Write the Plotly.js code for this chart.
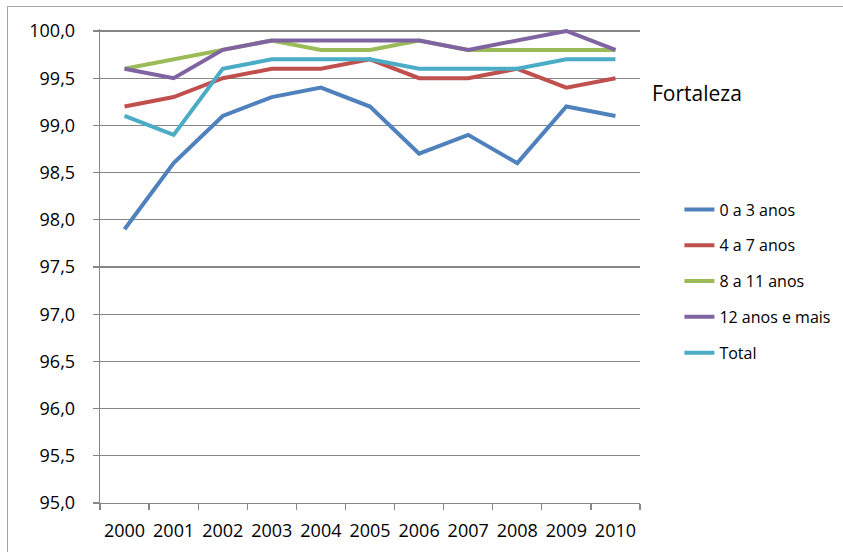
<!DOCTYPE html>
<html>
<head>
<meta charset="utf-8">
<script src="https://cdn.plot.ly/plotly-3.0.1.min.js"></script>
<style>
  body { margin: 0; background: #fff; }
  #chartDiv { position: absolute; left: 0; top: 0; width: 843px; height: 552px; }
  #frame { position: absolute; left: 7px; top: 6px; width: 900px; height: 600px;
           border-left: 1.5px solid #a6a6a6; border-top: 1.5px solid #a6a6a6; pointer-events: none; }
</style>
</head>
<body>
<div id="chartDiv"></div>
<div id="frame"></div>
<script>
"use strict";

const years = ["2000", "2001", "2002", "2003", "2004", "2005", "2006", "2007", "2008", "2009", "2010"];

const anos0a3 = [97.9, 98.6, 99.1, 99.3, 99.4, 99.2, 98.7, 98.9, 98.6, 99.2, 99.1];
const anos4a7 = [99.2, 99.3, 99.5, 99.6, 99.6, 99.7, 99.5, 99.5, 99.6, 99.4, 99.5];
const anos8a11 = [99.6, 99.7, 99.8, 99.9, 99.8, 99.8, 99.9, 99.8, 99.8, 99.8, 99.8];
const anos12mais = [99.6, 99.5, 99.8, 99.9, 99.9, 99.9, 99.9, 99.8, 99.9, 100.0, 99.8];
const total = [99.1, 98.9, 99.6, 99.7, 99.7, 99.7, 99.6, 99.6, 99.6, 99.7, 99.7];

const seriesNames = ["0 a 3 anos", "4 a 7 anos", "8 a 11 anos", "12 anos e mais", "Total"];
const seriesValues = [anos0a3, anos4a7, anos8a11, anos12mais, total];
const seriesColors = ["#4f81bd", "#c0504d", "#9bbb59", "#8064a2", "#4bacc6"];

const gridColor = "#868686";
const mainFont = "Open Sans, Liberation Sans, sans-serif";

var traces = seriesNames.map(function (name, i) {
    return {
        x: years,
        y: seriesValues[i],
        name: name,
        legendgroup: "g" + i,
        type: "scatter",
        mode: "lines",
        line: { color: seriesColors[i], width: 4 }
    };
});

var layout = {
    width: 843,
    height: 552,
    margin: { l: 100, r: 203, t: 29, b: 49, pad: 0, autoexpand: false },
    paper_bgcolor: "#ffffff",
    plot_bgcolor: "#ffffff",
    separators: ", ",
    font: { family: mainFont, size: 18, color: "#000000" },
    showlegend: true,
    legend: {
        x: 1.073,
        xanchor: "left",
        y: 0.655,
        yanchor: "top",
        traceorder: "grouped",
        tracegroupgap: 12,
        font: { family: mainFont, size: 16, color: "#000000" },
        bgcolor: "rgba(0,0,0,0)"
    },
    xaxis: {
        type: "category",
        range: [-0.5, 10.5],
        tickson: "boundaries",
        tickangle: 0,
        ticks: "outside",
        ticklen: 6,
        tickcolor: gridColor,
        tickwidth: 1.3,
        showline: true,
        linecolor: gridColor,
        linewidth: 1.3,
        showgrid: false,
        zeroline: false,
        ticklabelstandoff: 11,
        tickfont: { family: mainFont, size: 18, color: "#000000" },
        fixedrange: true
    },
    yaxis: {
        range: [95, 100.0212],
        tickmode: "linear",
        tick0: 95,
        dtick: 0.5,
        tickformat: ".1f",
        ticks: "outside",
        ticklen: 6,
        tickcolor: gridColor,
        tickwidth: 1.3,
        showline: true,
        linecolor: gridColor,
        linewidth: 1.3,
        showgrid: true,
        gridcolor: gridColor,
        gridwidth: 1.3,
        zeroline: false,
        ticklabelstandoff: 14,
        tickfont: { family: mainFont, size: 18, color: "#000000" },
        fixedrange: true
    },
    annotations: [
        {
            text: "Fortaleza",
            xref: "paper",
            yref: "paper",
            x: 1.018,
            xanchor: "left",
            y: 1 - (93 - 29) / 474,
            yanchor: "middle",
            showarrow: false,
            font: { family: mainFont, size: 21, color: "#000000" }
        }
    ]
};

Plotly.newPlot("chartDiv", traces, layout, { displayModeBar: false, staticPlot: true });
</script>
</body>
</html>
